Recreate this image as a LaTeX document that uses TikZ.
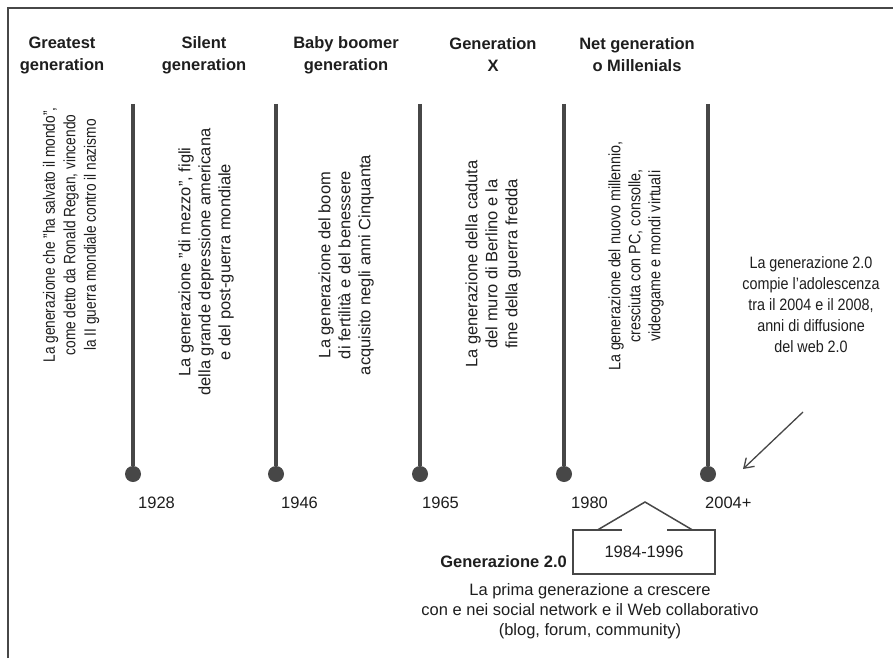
\documentclass[tikz,border=0pt]{standalone}
\usepackage{fontspec}
\setmainfont{Liberation Sans}
\newfontfamily\narrowfont[Ligatures=TeX,FakeStretch=0.83]{Liberation Sans}
\newfontfamily\halfnarrowfont[Ligatures=TeX,FakeStretch=0.87]{Liberation Sans}
\usepackage{tikz}
\usetikzlibrary{arrows.meta}
\definecolor{bargray}{HTML}{474747}
\definecolor{inkgray}{HTML}{1E1E1E}
% one generation bar: x position, name
\newcommand{\genbar}[2]{
    \coordinate (#2top) at (#1,104);
    \node[gendot] (#2dot) at (#1,474) {};
    \draw[barline] (#2top) -- (#2dot);
}

\begin{document}
\begin{tikzpicture}[x=1pt,y=-1pt,
        gendot/.style={circle,fill=bargray,inner sep=0pt,minimum size=16pt},
        barline/.style={line width=4pt,draw=bargray},
        head/.style={font=\fontsize{16.5}{22}\selectfont\bfseries,align=center,text=inkgray},
        desc/.style={font=\fontsize{16.5}{20}\selectfont,align=center,rotate=90,text=inkgray},
        year/.style={font=\fontsize{16.5}{20}\selectfont,anchor=west,inner sep=0pt,text=inkgray}]
        \useasboundingbox (0,0) rectangle (893,658);
        % frame
        \draw[line width=2pt,bargray] (8,658) -- (8,8) -- (893,8);
        % headings
        \node[head] (greatest) at (62,55) {Greatest\\generation};
        \node[head] (silent) at (204,55) {Silent\\generation};
        \node[head] (boomer) at (346,55) {Baby boomer\\generation};
        \node[head] (genx) at (493,55) {Generation\\X};
        \node[head] (millen) at (637,55) {Net generation\\o Millenials};
        % bars
        \genbar{133}{b1}
        \genbar{276}{b2}
        \genbar{420}{b3}
        \genbar{564}{b4}
        \genbar{708}{b5}
        % years
        \node[year] (y1) at (138,503) {1928};
        \node[year] (y2) at (281,503) {1946};
        \node[year] (y3) at (422,503) {1965};
        \node[year] (y4) at (571,503) {1980};
        \node[year] (y5) at (705,503) {2004+};
        % descriptions
        \node[desc,font=\fontsize{16.5}{20.5}\selectfont\narrowfont] (d1) at (71,235) {La generazione che "ha salvato il mondo",\\come detto da Ronald Regan, vincendo\\la II guerra mondiale contro il nazismo};
        \node[desc] (d2) at (206,262) {La generazione "di mezzo", figli\\della grande depressione americana\\e del post-guerra mondiale};
        \node[desc] (d3) at (346,265) {La generazione del boom\\di fertilità e del benessere\\acquisito negli anni Cinquanta};
        \node[desc] (d4) at (493,264) {La generazione della caduta\\del muro di Berlino e la\\fine della guerra fredda};
        \node[desc,font=\fontsize{16.5}{20}\selectfont\halfnarrowfont] (d5) at (636,256) {La generazione del nuovo millennio,\\cresciuta con PC, consolle,\\videogame e mondi virtuali};
        % note on the right
        \node[font=\fontsize{16.5}{21}\selectfont\halfnarrowfont,align=center,text=inkgray] (note) at (811,305) {La generazione 2.0\\compie l'adolescenza\\tra il 2004 e il 2008,\\anni di diffusione\\del web 2.0};
        \coordinate (tail) at (803,412);
        \coordinate (tip) at (743,469);
        \draw[line width=1.3pt,bargray,-{Straight Barb[length=9pt,width=12pt]}] (tail) -- (tip);
        % generazione 2.0
        \node[font=\fontsize{16.5}{20}\selectfont,inner sep=0pt,minimum width=142pt,minimum height=44pt,text=inkgray] (range) at (644,552) {1984-1996};
        \coordinate (peak) at (645,502);
        \draw[line width=1.5pt,bargray] ([xshift=49pt]range.north west) -- (range.north west) -- (range.south west) -- (range.south east) -- (range.north east) -- ([xshift=-48pt]range.north east);
        \draw[line width=1.5pt,bargray] ([xshift=25pt]range.north west) -- (peak) -- ([xshift=-23pt]range.north east);
        \node[font=\fontsize{16.5}{20}\selectfont\bfseries,anchor=east,inner sep=0pt,text=inkgray] (gen20) at (567,562) {Generazione 2.0};
        \node[font=\fontsize{16.5}{20}\selectfont,align=center,text=inkgray] (web) at (590,611) {La prima generazione a crescere\\con e nei social network e il Web collaborativo\\(blog, forum, community)};
\end{tikzpicture}
\end{document}
